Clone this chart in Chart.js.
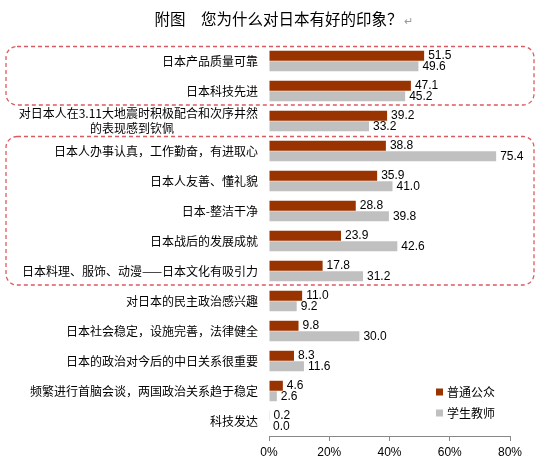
<!DOCTYPE html>
<html lang="zh">
<head>
<meta charset="UTF-8">
<title>附图 您为什么对日本有好的印象？</title>
<script src="https://cdn.jsdelivr.net/npm/chart.js"></script>
<style>
  html, body { margin: 0; padding: 0; background: #fff; }
</style>
</head>
<body>
<canvas id="chart" width="541" height="461"></canvas>
<script>
// 数据
const categories = [
  '日本产品质量可靠',
  '日本科技先进',
  ['对日本人在3.11大地震时积极配合和次序井然', '的表现感到钦佩\u3000\u3000\u3000\u3000\u3000\u3000\u3000'],
  '日本人办事认真，工作勤奋，有进取心',
  '日本人友善、懂礼貌',
  '日本-整洁干净',
  '日本战后的发展成就',
  '日本料理、服饰、动漫——日本文化有吸引力',
  '对日本的民主政治感兴趣',
  '日本社会稳定，设施完善，法律健全',
  '日本的政治对今后的中日关系很重要',
  '频繁进行首脑会谈，两国政治关系趋于稳定',
  '科技发达'
];
const publicValues  = [51.5, 47.1, 39.2, 38.8, 35.9, 28.8, 23.9, 17.8, 11.0, 9.8, 8.3, 4.6, 0.2];
const teacherValues = [49.6, 45.2, 33.2, 75.4, 41.0, 39.8, 42.6, 31.2, 9.2, 30.0, 11.6, 2.6, 0.0];
const seriesNames = ['普通公众', '学生教师'];
const xTicks = [0, 20, 40, 60, 80];
// 虚线框圈出的类别 (起止序号)
const highlightGroups = [[0, 1], [3, 7]];

const CJK = '"Noto Sans CJK SC", "Noto Sans", sans-serif';

// 标题
const titlePlugin = {
  id: 'titleText',
  afterDraw(chart) {
    const ctx = chart.ctx;
    ctx.save();
    ctx.font = '15.5px ' + CJK;
    ctx.textBaseline = 'middle';
    const main = '附图\u3000您为什么对日本有好的印象？';
    const w = ctx.measureText(main).width;
    ctx.font = '11px ' + CJK;
    const aw = ctx.measureText('↵').width;
    const x0 = 283 - (w + aw) / 2;
    ctx.font = '15.5px ' + CJK;
    ctx.fillStyle = '#000';
    ctx.textAlign = 'left';
    ctx.fillText(main, x0, 19);
    ctx.font = '11px ' + CJK;
    ctx.fillStyle = '#999';
    ctx.fillText('↵', x0 + w + 1, 21);
    ctx.restore();
  }
};

// 数值标签
const valueLabels = {
  id: 'valueLabels',
  afterDatasetsDraw(chart) {
    const ctx = chart.ctx;
    ctx.save();
    ctx.font = '12px "Liberation Sans", Arial, sans-serif';
    ctx.fillStyle = '#000';
    ctx.textAlign = 'left';
    ctx.textBaseline = 'middle';
    chart.data.datasets.forEach((ds, i) => {
      chart.getDatasetMeta(i).data.forEach((bar, j) => {
        ctx.fillText(ds.data[j].toFixed(1), bar.x + 4, bar.y);
      });
    });
    ctx.restore();
  }
};

// 红色虚线圆角框
const highlightBoxes = {
  id: 'highlightBoxes',
  afterDraw(chart) {
    const ctx = chart.ctx;
    const y = chart.scales.y;
    ctx.save();
    ctx.strokeStyle = '#db5a62';
    ctx.lineWidth = 1.3;
    ctx.setLineDash([4, 3]);
    highlightGroups.forEach(([a, b]) => {
      const top = y.getPixelForValue(a) - 14.5;
      const bottom = y.getPixelForValue(b) + 14;
      ctx.beginPath();
      ctx.roundRect(6, top, 528, bottom - top, 11);
      ctx.stroke();
    });
    ctx.restore();
  }
};

// 图例
const legendBox = {
  id: 'legendBox',
  afterDraw(chart) {
    const ctx = chart.ctx;
    ctx.save();
    ctx.font = '12px ' + CJK;
    ctx.textBaseline = 'middle';
    ctx.textAlign = 'left';
    chart.data.datasets.forEach((ds, i) => {
      const cy = 392 + i * 21;
      ctx.fillStyle = ds.backgroundColor;
      ctx.fillRect(436, cy - 3.5, 7, 7);
      ctx.fillStyle = '#000';
      ctx.fillText(ds.label, 447, cy);
    });
    ctx.restore();
  }
};

new Chart(document.getElementById('chart'), {
  type: 'bar',
  data: {
    labels: categories,
    datasets: [
      { label: seriesNames[0], data: publicValues, backgroundColor: '#993300' },
      { label: seriesNames[1], data: teacherValues, backgroundColor: '#c0c0c0' }
    ]
  },
  options: {
    indexAxis: 'y',
    responsive: false,
    animation: false,
    layout: { padding: { top: 46, right: 31, left: 0, bottom: 0 } },
    datasets: {
      bar: { categoryPercentage: 0.7, barPercentage: 0.95 }
    },
    plugins: {
      legend: { display: false },
      title: { display: false },
      tooltip: { enabled: false }
    },
    scales: {
      x: {
        min: xTicks[0],
        max: xTicks[xTicks.length - 1],
        afterBuildTicks(s) { s.ticks = xTicks.map(v => ({ value: v })); },
        afterFit(s) { s.height = 25; },
        grid: { drawOnChartArea: false, drawTicks: true, tickLength: 5, color: '#888' },
        border: { display: true, color: '#888' },
        ticks: {
          padding: 4,
          color: '#000',
          font: { size: 12, family: '"Liberation Sans", Arial, sans-serif' },
          callback: v => v + '%'
        }
      },
      y: {
        afterFit(s) { s.width = 269; },
        grid: { display: false, drawTicks: false },
        border: { display: false },
        ticks: {
          autoSkip: false,
          padding: 11,
          color: '#000',
          font: { size: 12, family: CJK, lineHeight: 1.3 }
        }
      }
    }
  },
  plugins: [titlePlugin, valueLabels, highlightBoxes, legendBox]
});
</script>
</body>
</html>
